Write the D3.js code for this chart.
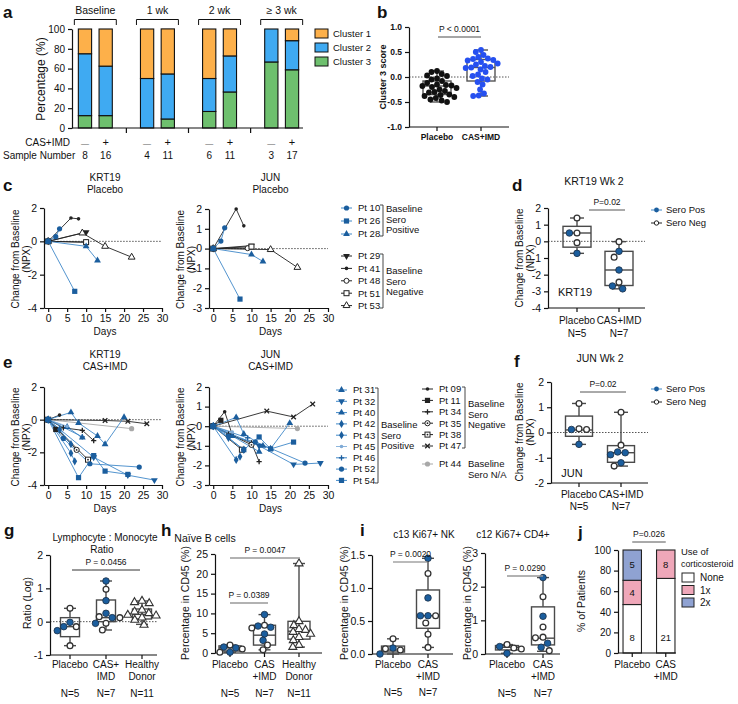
<!DOCTYPE html>
<html><head><meta charset="utf-8">
<script src="https://cdn.jsdelivr.net/npm/d3@7"></script>
<style>body{margin:0;background:#fff}</style>
</head><body><svg id="fig" width="738" height="704"></svg>
<script>
// ================= DATA =================
// Panel a
const aGroups = ["Baseline", "1 wk", "2 wk", "\u2265 3 wk"];
const aTreat = ["\u2014", "+", "\u2014", "+", "\u2014", "+", "\u2014", "+"];
const aSampleN = [8, 16, 4, 11, 6, 11, 3, 17];
const aCluster1 = [25, 37.5, 50, 45.5, 50, 27.3, 0, 11.8];
const aCluster2 = [62.5, 50, 50, 45.5, 33.3, 36.4, 33.3, 29.4];
const aCluster3 = [12.5, 12.5, 0, 9.1, 16.7, 36.4, 66.7, 58.8];
const aClusterNames = ["Cluster 1", "Cluster 2", "Cluster 3"];

// Panel b
const bCats = ["Placebo", "CAS+IMD"];
const bPlacebo = [0.12, 0.10, 0.06, 0.03, 0.02, -0.03, -0.05, -0.08, -0.12, -0.15, -0.16, -0.17, -0.18, -0.20, -0.22, -0.25, -0.28, -0.30, -0.31, -0.35, -0.36, -0.38, -0.40, -0.42, -0.45, -0.47, -0.50];
const bCasImd = [0.54, 0.50, 0.44, 0.40, 0.37, 0.36, 0.34, 0.33, 0.30, 0.27, 0.25, 0.22, 0.20, 0.19, 0.18, 0.15, 0.10, 0.05, 0.02, -0.03, -0.05, -0.10, -0.15, -0.25, -0.33, -0.37, -0.38];
const bStats = [{min:-0.50,q1:-0.35,med:-0.18,q3:-0.08,max:0.12},{min:-0.38,q1:-0.08,med:0.19,q3:0.35,max:0.54}];

// Panels c / e : patient trajectories
const krt19Placebo = [
  {pt:"Pt 29", days:[0,10], npx:[0,0.55]},
  {pt:"Pt 41", days:[0,6,8], npx:[0,1.4,1.35]},
  {pt:"Pt 48", days:[0,10], npx:[0,-0.05]},
  {pt:"Pt 51", days:[0,10], npx:[0,-0.05]},
  {pt:"Pt 53", days:[0,9,15,22], npx:[0,0.5,-0.3,-0.95]},
  {pt:"Pt 10", days:[0,2,3], npx:[0,0.28,0.75]},
  {pt:"Pt 26", days:[0,7], npx:[0,-3.0]},
  {pt:"Pt 28", days:[0,10,13], npx:[0,-0.3,-1.15]}
];
const junPlacebo = [
  {pt:"Pt 29", days:[0,10], npx:[0,0.15]},
  {pt:"Pt 41", days:[0,6,8], npx:[0,2.0,1.15]},
  {pt:"Pt 48", days:[0,9], npx:[0,0.02]},
  {pt:"Pt 51", days:[0,10], npx:[0,0.1]},
  {pt:"Pt 53", days:[0,15,22], npx:[0,-0.05,-0.95]},
  {pt:"Pt 10", days:[0,2,3], npx:[0,0.38,1.05]},
  {pt:"Pt 26", days:[0,7], npx:[0,-2.55]},
  {pt:"Pt 28", days:[0,10,13], npx:[0,-0.3,-0.65]}
];
const krt19Cas = [
  {pt:"Pt 44", days:[0,22], npx:[0,-0.55]},
  {pt:"Pt 09", days:[0,3], npx:[0,0.28]},
  {pt:"Pt 11", days:[0,2], npx:[0,-0.6]},
  {pt:"Pt 34", days:[0,4,9,12], npx:[0,-0.5,-0.65,-1.28]},
  {pt:"Pt 35", days:[0,7.5], npx:[0,-1.85]},
  {pt:"Pt 38", days:[0,10.5], npx:[0,-2.45]},
  {pt:"Pt 47", days:[0,15,21,26], npx:[0,-0.05,-0.1,-0.25]},
  {pt:"Pt 31", days:[0,5,9], npx:[0,-0.45,-1.1]},
  {pt:"Pt 32", days:[0,12,21,28], npx:[0,-2.3,-3.4,-3.7]},
  {pt:"Pt 40", days:[0,6,8,13,15,20], npx:[0,0.45,-0.2,-1.0,-1.5,0.15]},
  {pt:"Pt 42", days:[0,6,7], npx:[0,-2.05,-2.55]},
  {pt:"Pt 43", days:[0,3,6], npx:[0,-0.6,-1.5]},
  {pt:"Pt 45", days:[0,5], npx:[0,-0.4]},
  {pt:"Pt 46", days:[0,9], npx:[0,-1.05]},
  {pt:"Pt 52", days:[0,4,11,24], npx:[0,-1.15,-2.7,-2.9]},
  {pt:"Pt 54", days:[0,8,12,15,21], npx:[0,-3.55,-2.2,-3.15,-3.35]}
];
const junCas = [
  {pt:"Pt 44", days:[0,22], npx:[0,-0.12]},
  {pt:"Pt 09", days:[0,3,5], npx:[0,0.74,-0.45]},
  {pt:"Pt 11", days:[0,2], npx:[0,0.3]},
  {pt:"Pt 34", days:[0,4,10,12], npx:[0,-0.4,-0.85,-1.81]},
  {pt:"Pt 35", days:[0,10], npx:[0,-0.95]},
  {pt:"Pt 38", days:[0,7.5], npx:[0,-1.2]},
  {pt:"Pt 47", days:[0,14,21,26], npx:[0,0.77,0.47,1.13]},
  {pt:"Pt 31", days:[0,5,12], npx:[0,-0.5,-1.3]},
  {pt:"Pt 32", days:[0,12,21,28], npx:[0,-1.0,-1.95,-1.88]},
  {pt:"Pt 40", days:[0,6,8,13,15,20], npx:[0,0.45,-0.4,-1.0,-1.15,0.16]},
  {pt:"Pt 42", days:[0,6,7], npx:[0,-1.72,-1.55]},
  {pt:"Pt 43", days:[0,4,8], npx:[0,-0.6,-1.2]},
  {pt:"Pt 45", days:[0,5], npx:[0,-0.3]},
  {pt:"Pt 46", days:[0,9], npx:[0,-0.6]},
  {pt:"Pt 52", days:[0,4,11,24], npx:[0,-0.5,-0.8,-1.88]},
  {pt:"Pt 54", days:[0,8,12,15,21], npx:[0,-1.2,-0.55,-1.16,-0.81]}
];
const ptSero = {"Pt 10":"pos","Pt 26":"pos","Pt 28":"pos","Pt 29":"neg","Pt 41":"neg","Pt 48":"neg","Pt 51":"neg","Pt 53":"neg",
  "Pt 31":"pos","Pt 32":"pos","Pt 40":"pos","Pt 42":"pos","Pt 43":"pos","Pt 45":"pos","Pt 46":"pos","Pt 52":"pos","Pt 54":"pos",
  "Pt 09":"neg","Pt 11":"neg","Pt 34":"neg","Pt 35":"neg","Pt 38":"neg","Pt 47":"neg","Pt 44":"na"};
const cLegPos = ["Pt 10","Pt 26","Pt 28"];
const cLegNeg = ["Pt 29","Pt 41","Pt 48","Pt 51","Pt 53"];
const eLegPos = ["Pt 31","Pt 32","Pt 40","Pt 42","Pt 43","Pt 45","Pt 46","Pt 52","Pt 54"];
const eLegNeg = ["Pt 09","Pt 11","Pt 34","Pt 35","Pt 38","Pt 47"];
const eLegNA = ["Pt 44"];
const dayTicks = [0,5,10,15,20,25,30];

// Panel d (KRT19 Wk 2), sero: 1 = positive
const dPlacebo = [1.4, 0.5, 0.5, -0.08, -0.72];
const dPlaceboSero = [0,0,1,0,1];
const dCas = [-0.02, -0.6, -0.95, -1.72, -2.45, -2.68, -2.85];
const dCasSero = [0,1,0,1,0,1,1];
const dStats = [{min:-0.72,q1:-0.35,med:0.5,q3:0.9,max:1.4},{min:-2.85,q1:-2.65,med:-1.72,q3:-0.6,max:-0.02}];

// Panel f (JUN Wk 2)
const fPlacebo = [1.15, 0.15, 0.12, 0.12, -0.47];
const fPlaceboSero = [0,0,1,0,1];
const fCas = [0.8, -0.5, -0.77, -0.88, -0.8, -1.2, -1.33];
const fCasSero = [0,0,1,1,1,1,0];
const fStats = [{min:-0.47,q1:-0.15,med:0.1,q3:0.65,max:1.15},{min:-1.33,q1:-1.18,med:-0.8,q3:-0.52,max:0.8}];

// Panel g (Lymphocyte : Monocyte ratio, log)
const gCats = ["Placebo","CAS+IMD","Healthy Donor"];
const gPlacebo = [0.4, -0.02, -0.15, -0.15, -0.27, -0.72];
const gPlaceboSero = [0,1,1,0,1,0];
const gCas = [1.22, 0.97, 0.63, 0.25, 0.15, 0.12, 0.12, -0.05, -0.05, -0.25];
const gCasSero = [1,0,1,1,0,1,0,0,1,0];
const gHealthy = [0.62, 0.58, 0.55, 0.35, 0.3, 0.25, 0.2, 0.18, 0.12, 0.05, -0.1];
const gStats = [{min:-0.72,q1:-0.45,med:-0.15,q3:0.12,max:0.4},{min:-0.25,q1:0.0,med:0.12,q3:0.65,max:1.22},{min:-0.08,q1:0.08,med:0.22,q3:0.38,max:0.62}];

// Panel h (Naive B cells)
const hPlacebo = [2.0, 1.5, 1.3, 1.0, 0.2, 0.2];
const hPlaceboSero = [0,1,1,0,1,0];
const hCas = [9.7, 7.0, 6.8, 6.5, 6.3, 4.8, 3.2, 2.0, 0.8];
const hCasSero = [1,0,1,1,0,1,1,0,0];
const hHealthy = [22.6, 8.0, 7.0, 6.0, 5.8, 5.3, 4.8, 4.0, 3.2, 2.0, 1.5];
const hStats = [{min:0.2,q1:0.5,med:1.3,q3:1.8,max:2.0},{min:0.8,q1:2.0,med:4.5,q3:7.0,max:9.7},{min:1.5,q1:3.5,med:5.5,q3:8.0,max:22.6}];

// Panel i
const iNkPlacebo = [0.23, 0.09, 0.08, 0.06, 0.0];
const iNkPlaceboSero = [0,1,0,0,1];
const iNkCas = [1.45, 1.22, 0.85, 0.58, 0.58, 0.58, 0.47, 0.3, 0.1];
const iNkCasSero = [1,0,1,1,1,0,0,0,0];
const iNkStats = [{min:0.0,q1:0.03,med:0.06,q3:0.12,max:0.23},{min:0.1,q1:0.39,med:0.58,q3:0.97,max:1.45}];
const iCd4Placebo = [0.28, 0.22, 0.18, 0.15, 0.02];
const iCd4PlaceboSero = [0,1,0,0,1];
const iCd4Cas = [2.27, 1.7, 1.12, 0.8, 0.5, 0.48, 0.32, 0.2, 0.1];
const iCd4CasSero = [1,0,1,0,0,0,1,1,0];
const iCd4Stats = [{min:0.02,q1:0.12,med:0.2,q3:0.25,max:0.28},{min:0.08,q1:0.27,med:0.47,q3:1.4,max:2.27}];

// Panel j (corticosteroid use, patient counts)
const jCats = ["Placebo","CAS+IMD"];
const jNone = [8, 21];
const j1x = [4, 8];
const j2x = [5, 0];
const jKeys = ["None","1x","2x"];

// ================= DRAWING =================
const FONT = '"Liberation Sans", Arial, Helvetica, sans-serif';
const svg = d3.select("#fig").attr("font-family", FONT);
svg.append("rect").attr("width",738).attr("height",704).attr("fill","#fff");
const INK = "#111";
const POS_LINE = "#3F88C8", POS_MK = "#1B5E9E", NEG = "#222", NA = "#A8A8A8";
const BOXC = "#4a4a4a";
const numFmt = d => String(d);
const fix1 = d => d.toFixed(1);

function T(g, x, y, s, o = {}) {
  const t = g.append("text").attr("x", x).attr("y", y).text(s)
    .attr("font-size", o.size || 9.5).attr("text-anchor", o.anchor || "middle")
    .attr("fill", o.fill || INK).attr("font-weight", o.weight || "normal");
  if (o.dy) t.attr("dy", o.dy);
  if (o.rotate) t.attr("transform", `rotate(${o.rotate},${x},${y})`);
  return t;
}
function styl(a, fs, bold) {
  a.attr("font-family", FONT).attr("font-size", fs);
  a.select(".domain").attr("stroke", INK).attr("stroke-width", 1.2);
  a.selectAll(".tick line").attr("stroke", INK).attr("stroke-width", 1.2);
  a.selectAll(".tick text").attr("fill", INK).attr("font-weight", bold ? "bold" : null);
  return a;
}
function letter(s, x, y) { T(svg, x, y, s, {size: 17, weight: "bold", anchor: "start"}); }
function ylab2(g, x1, x2, cy, l1, l2, size) {
  T(g, x1, cy, l1, {rotate: -90, dy: "0.35em", size: size || 10});
  if (l2) T(g, x2, cy, l2, {rotate: -90, dy: "0.35em", size: size || 10});
}
function pval(g, x1, x2, yl, text, col, sw) {
  g.append("line").attr("x1", x1).attr("x2", x2).attr("y1", yl).attr("y2", yl)
    .attr("stroke", col || "#666").attr("stroke-width", sw || 1.1);
  T(g, (x1 + x2) / 2, yl - 5, text, {size: 8.5});
}

// beeswarm offsets (layout only)
function swarm(vals, y, sep) {
  const idx = vals.map((v, i) => i).sort((a, b) => vals[b] - vals[a]);
  const placed = [], off = new Array(vals.length);
  for (const i of idx) {
    const yy = y(vals[i]);
    const forb = [];
    for (const p of placed) {
      const dy = Math.abs(p.y - yy);
      if (dy < sep) { const dx = Math.sqrt(sep * sep - dy * dy); forb.push([p.x - dx, p.x + dx]); }
    }
    const cands = [0];
    forb.forEach(f => cands.push(f[0], f[1]));
    cands.sort((a, b) => Math.abs(a) - Math.abs(b) || a - b);
    let chosen = 0;
    for (const c of cands) {
      if (forb.every(f => c <= f[0] + 1e-6 || c >= f[1] - 1e-6)) { chosen = c; break; }
    }
    placed.push({x: chosen, y: yy}); off[i] = chosen;
  }
  return off;
}

// markers for line plots
function marker(g, kind, x, y, col) {
  const s = g.append("g").attr("transform", `translate(${x},${y})`);
  const sym = (t, size) => d3.symbol(t, size)();
  switch (kind) {
    case "circle": s.append("circle").attr("r", 2.6).attr("fill", col); break;
    case "dot": s.append("circle").attr("r", 1.8).attr("fill", col); break;
    case "square": s.append("rect").attr("x", -2.6).attr("y", -2.6).attr("width", 5.2).attr("height", 5.2).attr("fill", col); break;
    case "tri": s.append("path").attr("d", sym(d3.symbolTriangle, 20)).attr("fill", col); break;
    case "itri": s.append("path").attr("d", sym(d3.symbolTriangle, 20)).attr("transform", "rotate(180)").attr("fill", col); break;
    case "diamond": s.append("path").attr("d", sym(d3.symbolDiamond, 20)).attr("fill", col); break;
    case "plus": s.append("path").attr("d", "M-2.6,0H2.6M0,-2.6V2.6").attr("stroke", col).attr("stroke-width", 1.3); break;
    case "x": s.append("path").attr("d", "M-2.3,-2.3L2.3,2.3M-2.3,2.3L2.3,-2.3").attr("stroke", col).attr("stroke-width", 1.3); break;
    case "ocircle": s.append("circle").attr("r", 2.5).attr("fill", "#fff").attr("stroke", col).attr("stroke-width", 1); break;
    case "osquare": s.append("rect").attr("x", -2.5).attr("y", -2.5).attr("width", 5).attr("height", 5).attr("fill", "#fff").attr("stroke", col).attr("stroke-width", 1); break;
    case "otri": s.append("path").attr("d", sym(d3.symbolTriangle, 20)).attr("fill", "#fff").attr("stroke", col).attr("stroke-width", 1); break;
    case "ocircledot": s.append("circle").attr("r", 2.6).attr("fill", "#fff").attr("stroke", col).attr("stroke-width", 1);
      s.append("circle").attr("r", 0.9).attr("fill", col); break;
    case "osquaredot": s.append("rect").attr("x", -2.5).attr("y", -2.5).attr("width", 5).attr("height", 5).attr("fill", "#fff").attr("stroke", col).attr("stroke-width", 1);
      s.append("circle").attr("r", 0.9).attr("fill", col); break;
  }
}
const ptMarker = {"Pt 10":"circle","Pt 26":"square","Pt 28":"tri","Pt 29":"itri","Pt 41":"dot","Pt 48":"ocircle","Pt 51":"osquare","Pt 53":"otri",
  "Pt 31":"tri","Pt 32":"itri","Pt 40":"tri","Pt 42":"diamond","Pt 43":"diamond","Pt 45":"dot","Pt 46":"plus","Pt 52":"circle","Pt 54":"square",
  "Pt 09":"dot","Pt 11":"square","Pt 34":"plus","Pt 35":"ocircledot","Pt 38":"osquaredot","Pt 47":"x","Pt 44":"circle"};
function lineCol(pt) { const s = ptSero[pt]; return s === "pos" ? (pt === "Pt 45" ? "#8DB6DD" : POS_LINE) : s === "na" ? NA : NEG; }
function mkCol(pt) { const s = ptSero[pt]; return s === "pos" ? (pt === "Pt 45" ? "#7FAAD6" : POS_MK) : s === "na" ? NA : NEG; }

function linePlot(cfg) {
  const g = svg.append("g");
  const x = d3.scaleLinear([-1.1, 30], [cfg.x0, cfg.x1]);
  const y = d3.scaleLinear(cfg.yDom, [cfg.yb, cfg.yt]);
  g.append("line").attr("x1", x(0)).attr("x2", x(30)).attr("y1", y(0)).attr("y2", y(0))
    .attr("stroke", "#555").attr("stroke-width", 1).attr("stroke-dasharray", "1.5,1.5");
  styl(g.append("g").attr("transform", `translate(0,${cfg.yb})`)
    .call(d3.axisBottom(x).tickValues(dayTicks).tickFormat(numFmt).tickSize(4).tickSizeOuter(0)), 10.5);
  styl(g.append("g").attr("transform", `translate(${cfg.x0},0)`)
    .call(d3.axisLeft(y).tickValues(d3.range(cfg.yDom[0], cfg.yDom[1] + 0.01, cfg.yStep)).tickFormat(numFmt).tickSize(4).tickSizeOuter(0)), 10.5);
  const line = d3.line().x(d => x(d[0])).y(d => y(d[1]));
  cfg.data.forEach(p => {
    const pts = p.days.map((d, i) => [d, p.npx[i]]);
    g.append("path").attr("d", line(pts)).attr("fill", "none").attr("stroke", lineCol(p.pt)).attr("stroke-width", 0.9);
  });
  cfg.data.forEach(p => {
    p.days.forEach((d, i) => marker(g, ptMarker[p.pt], x(d), y(p.npx[i]), mkCol(p.pt)));
  });
  const cx = (cfg.x0 + cfg.x1) / 2 + 2;
  T(g, cx, cfg.tY, cfg.title[0], {size: 10});
  T(g, cx, cfg.tY + 12, cfg.title[1], {size: 10});
  T(g, cx, cfg.yb + 27, "Days", {size: 10});
  ylab2(g, cfg.x0 - 29, cfg.x0 - 18, (cfg.yb + cfg.yt) / 2 + 1, "Change from Baseline", "(NPX)", 10);
}
function legItem(g, pt, x, y) {
  g.append("line").attr("x1", x).attr("x2", x + 11).attr("y1", y).attr("y2", y).attr("stroke", lineCol(pt)).attr("stroke-width", 1);
  marker(g, ptMarker[pt], x + 5.5, y, mkCol(pt));
  T(g, x + 17, y, pt, {anchor: "start", dy: "0.35em", size: 9.5});
}
function bracket(g, x, y1, y2, lines, ly) {
  g.append("path").attr("d", `M${x - 3},${y1}H${x}V${y2}H${x - 3}`).attr("fill", "none").attr("stroke", "#333").attr("stroke-width", 0.9);
  lines.forEach((l, i) => T(g, x + 3, ly + i * 10.5, l, {anchor: "start", dy: "0.35em", size: 9.5}));
}

// box plots
function boxPanel(cfg) {
  const g = svg.append("g");
  const y = cfg.y, yb = y.range()[0];
  const xs = d3.scalePoint(cfg.cats, cfg.catRange);
  if (cfg.zero) g.append("line").attr("x1", cfg.axX).attr("x2", cfg.axEnd).attr("y1", y(0)).attr("y2", y(0))
    .attr("stroke", "#555").attr("stroke-width", 1).attr("stroke-dasharray", "1.5,1.5");
  styl(g.append("g").attr("transform", `translate(${cfg.axX},0)`)
    .call(d3.axisLeft(y).tickValues(cfg.ticks).tickFormat(cfg.fmt || numFmt).tickSize(4).tickSizeOuter(0)), cfg.fs || 10.5, cfg.bold);
  g.append("line").attr("x1", cfg.axX).attr("x2", cfg.axEnd).attr("y1", yb).attr("y2", yb).attr("stroke", INK).attr("stroke-width", 1.2);
  cfg.cats.forEach(c => g.append("line").attr("x1", xs(c)).attr("x2", xs(c)).attr("y1", yb).attr("y2", yb + 4).attr("stroke", INK).attr("stroke-width", 1.2));
  const bw = cfg.boxW, cw = cfg.capW || bw * 0.25;
  cfg.stats.forEach((s, i) => {
    const cx = xs(cfg.cats[i]);
    const st = (sel) => sel.attr("stroke", cfg.boxCol || BOXC).attr("stroke-width", 1.4).attr("fill", "none");
    st(g.append("line").attr("x1", cx).attr("x2", cx).attr("y1", y(s.max)).attr("y2", y(s.q3)));
    st(g.append("line").attr("x1", cx).attr("x2", cx).attr("y1", y(s.q1)).attr("y2", y(s.min)));
    st(g.append("line").attr("x1", cx - cw).attr("x2", cx + cw).attr("y1", y(s.max)).attr("y2", y(s.max)));
    st(g.append("line").attr("x1", cx - cw).attr("x2", cx + cw).attr("y1", y(s.min)).attr("y2", y(s.min)));
    st(g.append("rect").attr("x", cx - bw / 2).attr("y", y(s.q3)).attr("width", bw).attr("height", y(s.q1) - y(s.q3)));
    st(g.append("line").attr("x1", cx - bw / 2).attr("x2", cx + bw / 2).attr("y1", y(s.med)).attr("y2", y(s.med)));
  });
  const r = cfg.r || 3.3;
  const sep = cfg.sep || (2 * r + 1);
  cfg.groups.forEach((gr, i) => {
    const cx = xs(cfg.cats[i]);
    const offs = swarm(gr.vals, y, sep);
    gr.vals.forEach((v, j) => {
      const kind = gr.kind ? gr.kind : (gr.sero[j] ? "pos" : "neg");
      const px = cx + offs[j], py = y(v);
      if (kind === "pos") g.append("circle").attr("cx", px).attr("cy", py).attr("r", r).attr("fill", POS_MK).attr("stroke", "#1c2f44").attr("stroke-width", 0.8);
      else if (kind === "neg") g.append("circle").attr("cx", px).attr("cy", py).attr("r", r - 0.4).attr("fill", "#fff").attr("stroke", "#333").attr("stroke-width", 1.3);
      else if (kind === "tri") g.append("path").attr("d", d3.symbol(d3.symbolTriangle, 28)()).attr("transform", `translate(${px},${py})`).attr("fill", "#fff").attr("stroke", "#333").attr("stroke-width", 1.1);
      else g.append("circle").attr("cx", px).attr("cy", py).attr("r", r).attr("fill", kind);
    });
  });
  (cfg.labels || []).forEach((lines, i) => {
    lines.forEach((l, k) => T(g, xs(cfg.cats[i]), cfg.labY + k * 12, l, {size: cfg.labSize || 10, weight: cfg.bold ? "bold" : "normal"}));
  });
  (cfg.nLabels || []).forEach((l, i) => T(g, xs(cfg.cats[i]), cfg.nY, l, {size: 10}));
  return {g, xs};
}
function seroLegend(x, y) {
  const g = svg.append("g");
  g.append("line").attr("x1", x).attr("x2", x + 11).attr("y1", y).attr("y2", y).attr("stroke", POS_LINE).attr("stroke-width", 1);
  g.append("circle").attr("cx", x + 5.5).attr("cy", y).attr("r", 2.4).attr("fill", POS_MK);
  T(g, x + 15, y, "Sero Pos", {anchor: "start", dy: "0.35em", size: 9.5});
  g.append("line").attr("x1", x).attr("x2", x + 11).attr("y1", y + 13).attr("y2", y + 13).attr("stroke", NEG).attr("stroke-width", 1);
  g.append("circle").attr("cx", x + 5.5).attr("cy", y + 13).attr("r", 2.2).attr("fill", "#fff").attr("stroke", NEG).attr("stroke-width", 1);
  T(g, x + 15, y + 13, "Sero Neg", {anchor: "start", dy: "0.35em", size: 9.5});
}

// ---------- Panel a ----------
(function () {
  const g = svg.append("g");
  letter("a", 3, 18);
  const slots = ["0", "1", "s0", "2", "3", "s1", "4", "5", "s2", "6", "7"];
  const x = d3.scaleBand(slots, [74, 303]).paddingInner(0.36).paddingOuter(0.21);
  const y = d3.scaleLinear([0, 100], [128, 29]);
  const rows = aSampleN.map((n, i) => ({slot: String(i), c3: aCluster3[i], c2: aCluster2[i], c1: aCluster1[i]}));
  const keys = ["c3", "c2", "c1"];
  const cols = {c1: "#FDB04A", c2: "#3FAAF2", c3: "#6EC06E"};
  const stack = d3.stack().keys(keys)(rows);
  stack.forEach(layer => {
    layer.forEach(d => {
      if (d[1] - d[0] <= 0) return;
      g.append("rect").attr("x", x(d.data.slot)).attr("width", x.bandwidth())
        .attr("y", y(d[1])).attr("height", y(d[0]) - y(d[1]))
        .attr("fill", cols[layer.key]).attr("stroke", "#111").attr("stroke-width", 1.1);
    });
  });
  styl(g.append("g").attr("transform", "translate(72,0)")
    .call(d3.axisLeft(y).tickValues([0, 20, 40, 60, 80, 100]).tickSize(4).tickSizeOuter(0)), 10);
  const ax = styl(g.append("g").attr("transform", "translate(0,128)")
    .call(d3.axisBottom(x).tickValues(["s0", "s1", "s2"]).tickFormat("").tickSize(5).tickSizeOuter(0)), 10);
  ax.select(".domain").attr("d", "M72,0H303");
  aGroups.forEach((name, k) => {
    const x0 = x(String(2 * k)) - 4, x1 = x(String(2 * k + 1)) + x.bandwidth() + 4;
    g.append("path").attr("d", `M${x0},25V19.5H${x1}V25`).attr("fill", "none").attr("stroke", "#111").attr("stroke-width", 1);
    T(g, (x0 + x1) / 2, 14, name, {size: 10.5});
  });
  T(g, 70, 146, "CAS+IMD", {anchor: "end", size: 10});
  T(g, 3, 159, "Sample Number", {anchor: "start", size: 10});
  aSampleN.forEach((n, i) => {
    const cx = x(String(i)) + x.bandwidth() / 2;
    T(g, cx, 146, aTreat[i], {size: aTreat[i] === "+" ? 11 : 8, fill: aTreat[i] === "+" ? INK : "#555"});
    T(g, cx, 159, n, {size: 10});
  });
  ylab2(g, 41, null, 79, "Percentage (%)", null, 12);
  const lc = ["c1", "c2", "c3"];
  aClusterNames.forEach((nm, i) => {
    g.append("rect").attr("x", 315).attr("y", 29 + i * 14).attr("width", 13).attr("height", 9)
      .attr("fill", cols[lc[i]]).attr("stroke", "#111").attr("stroke-width", 1);
    T(g, 333, 34 + i * 14, nm, {anchor: "start", dy: "0.35em", size: 9.5});
  });
})();

// ---------- Panel b ----------
letter("b", 377, 18);
(function () {
  const y = d3.scaleLinear([-1, 1], [127, 27]);
  const res = boxPanel({y, cats: bCats, catRange: [437, 481], axX: 409, axEnd: 509, zero: true,
    ticks: [-1, -0.5, 0, 0.5, 1], fmt: fix1, fs: 8.5, bold: true, boxW: 28, capW: 7, boxCol: "#555",
    stats: bStats, r: 2.9, sep: 5.6,
    groups: [{vals: bPlacebo, kind: "#111"}, {vals: bCasImd, kind: "#2650F0"}],
    labels: [["Placebo"], ["CAS+IMD"]], labY: 140, labSize: 8.5});
  T(res.g, 383, 77, "Cluster 3 score", {rotate: -90, dy: "0.35em", size: 9, weight: "bold"});
  pval(res.g, 438, 481, 37, "P < 0.0001", "#888", 1.5);
})();

// ---------- Panel c ----------
letter("c", 3, 191);
linePlot({x0: 44, x1: 162, yDom: [-4, 2], yStep: 2, yb: 308, yt: 208, data: krt19Placebo, title: ["KRT19", "Placebo"], tY: 181});
linePlot({x0: 209, x1: 328, yDom: [-3, 2], yStep: 1, yb: 308, yt: 209, data: junPlacebo, title: ["JUN", "Placebo"], tY: 181});
(function () {
  const g = svg.append("g");
  cLegPos.forEach((p, i) => legItem(g, p, 341, 208 + i * 13));
  bracket(g, 383, 205, 236, ["Baseline", "Sero", "Positive"], 209);
  cLegNeg.forEach((p, i) => legItem(g, p, 341, 256 + i * 12.4));
  bracket(g, 383, 254, 308, ["Baseline", "Sero", "Negative"], 271);
})();

// ---------- Panel d ----------
letter("d", 512, 191);
(function () {
  const y = d3.scaleLinear([-4, 2], [308, 208]);
  const res = boxPanel({y, cats: bCats, catRange: [577, 619], axX: 548, axEnd: 645, zero: true,
    ticks: d3.range(-4, 2.01, 1), boxW: 28, capW: 7, stats: dStats,
    groups: [{vals: dPlacebo, sero: dPlaceboSero}, {vals: dCas, sero: dCasSero}],
    labels: [["Placebo"], ["CAS+IMD"]], labY: 324, nLabels: ["N=5", "N=7"], nY: 337});
  T(res.g, 594, 185, "KRT19 Wk 2", {size: 10.5});
  T(res.g, 575, 296, "KRT19", {size: 11});
  ylab2(res.g, 519, 530, 258, "Change from Baseline", "(NPX)", 10);
  pval(res.g, 589, 625, 210, "P=0.02", "#555", 1);
  seroLegend(651, 210);
})();

// ---------- Panel e ----------
letter("e", 3, 368);
linePlot({x0: 44, x1: 162, yDom: [-4, 2], yStep: 2, yb: 485, yt: 387, data: krt19Cas, title: ["KRT19", "CAS+IMD"], tY: 358});
linePlot({x0: 209, x1: 328, yDom: [-3, 2], yStep: 1, yb: 485, yt: 387, data: junCas, title: ["JUN", "CAS+IMD"], tY: 358});
(function () {
  const g = svg.append("g");
  eLegPos.forEach((p, i) => legItem(g, p, 336, 390 + i * 11.3));
  bracket(g, 378, 388, 483, ["Baseline", "Sero", "Positive"], 425);
  eLegNeg.forEach((p, i) => legItem(g, p, 422, 389 + i * 11.4));
  bracket(g, 465, 387, 448, ["Baseline", "Sero", "Negative"], 404);
  eLegNA.forEach(p => legItem(g, p, 422, 464));
  ["Baseline", "Sero N/A"].forEach((l, i) => T(g, 468, 464 + i * 11, l, {anchor: "start", dy: "0.35em", size: 9.5}));
})();

// ---------- Panel f ----------
letter("f", 514, 367);
(function () {
  const y = d3.scaleLinear([-2, 2], [483, 382]);
  const res = boxPanel({y, cats: bCats, catRange: [579, 621], axX: 551, axEnd: 648, zero: true,
    ticks: [-2, -1, 0, 1, 2], boxW: 27, capW: 7, stats: fStats,
    groups: [{vals: fPlacebo, sero: fPlaceboSero}, {vals: fCas, sero: fCasSero}],
    labels: [["Placebo"], ["CAS+IMD"]], labY: 498, nLabels: ["N=5", "N=7"], nY: 510});
  T(res.g, 600, 362, "JUN Wk 2", {size: 10.5});
  T(res.g, 572, 477, "JUN", {size: 11});
  ylab2(res.g, 519, 530, 432, "Change from Baseline", "(NPX)", 10);
  pval(res.g, 580, 626, 392, "P=0.02", "#555", 1);
  seroLegend(651, 389);
})();

// ---------- Panel g ----------
letter("g", 4, 536);
(function () {
  const y = d3.scaleLinear([-1, 2], [655, 555]);
  const res = boxPanel({y, cats: gCats, catRange: [70, 142], axX: 50, axEnd: 157, zero: true,
    ticks: [-1, 0, 1, 2], boxW: 19, capW: 6, stats: gStats,
    groups: [{vals: gPlacebo, sero: gPlaceboSero}, {vals: gCas, sero: gCasSero}, {vals: gHealthy, kind: "tri"}],
    labels: [["Placebo"], ["CAS+", "IMD"], ["Healthy", "Donor"]], labY: 668, nLabels: ["N=5", "N=7", "N=11"], nY: 697});
  T(res.g, 105, 541, "Lymphocyte : Monocyte", {size: 10});
  T(res.g, 102, 553, "Ratio", {size: 10});
  ylab2(res.g, 27, null, 603, "Ratio (Log)", null, 10.5);
  pval(res.g, 72, 140, 570, "P = 0.0456", "#333", 1);
})();

// ---------- Panel h ----------
letter("h", 161, 536);
(function () {
  const y = d3.scaleLinear([0, 25], [653, 554]);
  const res = boxPanel({y, cats: gCats, catRange: [230, 299], axX: 215, axEnd: 322, zero: false,
    ticks: [0, 5, 10, 15, 20, 25], boxW: 22, capW: 6, stats: hStats, sep: 6.5,
    groups: [{vals: hPlacebo, sero: hPlaceboSero}, {vals: hCas, sero: hCasSero}, {vals: hHealthy, kind: "tri"}],
    labels: [["Placebo"], ["CAS", "+IMD"], ["Healthy", "Donor"]], labY: 668, nLabels: ["N=5", "N=7", "N=11"], nY: 697});
  T(res.g, 205, 542, "Na\u00efve B cells", {size: 10.5});
  ylab2(res.g, 185, null, 603, "Percentage in CD45 (%)", null, 10.5);
  pval(res.g, 230, 300, 558, "P = 0.0047", "#999", 1.4);
  pval(res.g, 230, 268, 603, "P = 0.0389", "#999", 1.4);
})();

// ---------- Panel i ----------
letter("i", 360, 536);
(function () {
  const y = d3.scaleLinear([0, 1.5], [654, 555]);
  const res = boxPanel({y, cats: bCats, catRange: [393, 428], axX: 372, axEnd: 453, zero: false,
    ticks: [0, 0.5, 1, 1.5], fmt: fix1, boxW: 23, capW: 6, stats: iNkStats,
    groups: [{vals: iNkPlacebo, sero: iNkPlaceboSero}, {vals: iNkCas, sero: iNkCasSero}],
    labels: [["Placebo"], ["CAS", "+IMD"]], labY: 668, nLabels: ["N=5", "N=7"], nY: 696});
  T(res.g, 424, 538, "c13 Ki67+ NK", {size: 10});
  ylab2(res.g, 344, null, 603, "Percentage in CD45 (%)", null, 10.5);
  pval(res.g, 393, 428, 562, "P = 0.0020", "#777", 1.2);
})();
(function () {
  const y = d3.scaleLinear([0, 3], [654, 553]);
  const res = boxPanel({y, cats: bCats, catRange: [507, 543], axX: 485, axEnd: 560, zero: false,
    ticks: [0, 1, 2, 3], boxW: 23, capW: 6, stats: iCd4Stats,
    groups: [{vals: iCd4Placebo, sero: iCd4PlaceboSero}, {vals: iCd4Cas, sero: iCd4CasSero}],
    labels: [["Placebo"], ["CAS", "+IMD"]], labY: 668, nLabels: ["N=5", "N=7"], nY: 697});
  T(res.g, 513, 538, "c12 Ki67+ CD4+", {size: 10});
  ylab2(res.g, 467, null, 603, "Percentage in CD45 (%)", null, 10.5);
  pval(res.g, 507, 543, 576, "P = 0.0290", "#999", 1.4);
})();

// ---------- Panel j ----------
letter("j", 578, 538);
(function () {
  const g = svg.append("g");
  const y = d3.scaleLinear([0, 100], [653, 550]);
  const x = d3.scaleBand(jCats, [618, 680]).paddingInner(0.45).paddingOuter(0.15);
  const rows = jCats.map((c, i) => {
    const tot = jNone[i] + j1x[i] + j2x[i];
    return {cat: c, None: jNone[i] / tot * 100, "1x": j1x[i] / tot * 100, "2x": j2x[i] / tot * 100, n: {None: jNone[i], "1x": j1x[i], "2x": j2x[i]}};
  });
  const cols = {None: "#ffffff", "1x": "#EFA7B9", "2x": "#8FA2D2"};
  const st = d3.stack().keys(jKeys)(rows);
  st.forEach(layer => layer.forEach(d => {
    if (d[1] - d[0] <= 0) return;
    g.append("rect").attr("x", x(d.data.cat)).attr("width", x.bandwidth()).attr("y", y(d[1])).attr("height", y(d[0]) - y(d[1]))
      .attr("fill", cols[layer.key]).attr("stroke", "#222").attr("stroke-width", 1.1);
    const ly = layer.key === "None" ? y(15) : y((d[0] + d[1]) / 2);
    T(g, x(d.data.cat) + x.bandwidth() / 2, ly, d.data.n[layer.key], {dy: "0.35em", size: 9.5});
  }));
  styl(g.append("g").attr("transform", "translate(618,0)")
    .call(d3.axisLeft(y).tickValues([0, 20, 40, 60, 80, 100]).tickSize(4).tickSizeOuter(0)), 10);
  g.append("line").attr("x1", 618).attr("x2", 676).attr("y1", 653).attr("y2", 653).attr("stroke", INK).attr("stroke-width", 1.2);
  jCats.forEach(c => g.append("line").attr("x1", x(c) + x.bandwidth() / 2).attr("x2", x(c) + x.bandwidth() / 2).attr("y1", 653).attr("y2", 657).attr("stroke", INK).attr("stroke-width", 1.2));
  T(g, x("Placebo") + x.bandwidth() / 2, 668, "Placebo", {size: 10});
  T(g, x("CAS+IMD") + x.bandwidth() / 2, 668, "CAS", {size: 10});
  T(g, x("CAS+IMD") + x.bandwidth() / 2, 680, "+IMD", {size: 10});
  ylab2(g, 581, null, 601, "% of Patients", null, 10.5);
  pval(g, x("Placebo") + x.bandwidth() / 2, x("CAS+IMD") + x.bandwidth() / 2, 542, "P=0.026", "#555", 1);
  T(g, 681, 555, "Use of", {anchor: "start", size: 9.5});
  T(g, 681, 567, "corticosteroid", {anchor: "start", size: 8.8});
  jKeys.forEach((k, i) => {
    g.append("rect").attr("x", 682).attr("y", 573 + i * 12.5).attr("width", 12).attr("height", 9).attr("fill", cols[k]).attr("stroke", "#222").attr("stroke-width", 1);
    T(g, 700, 577.5 + i * 12.5, k, {anchor: "start", dy: "0.35em", size: 10});
  });
})();
</script></body></html>
